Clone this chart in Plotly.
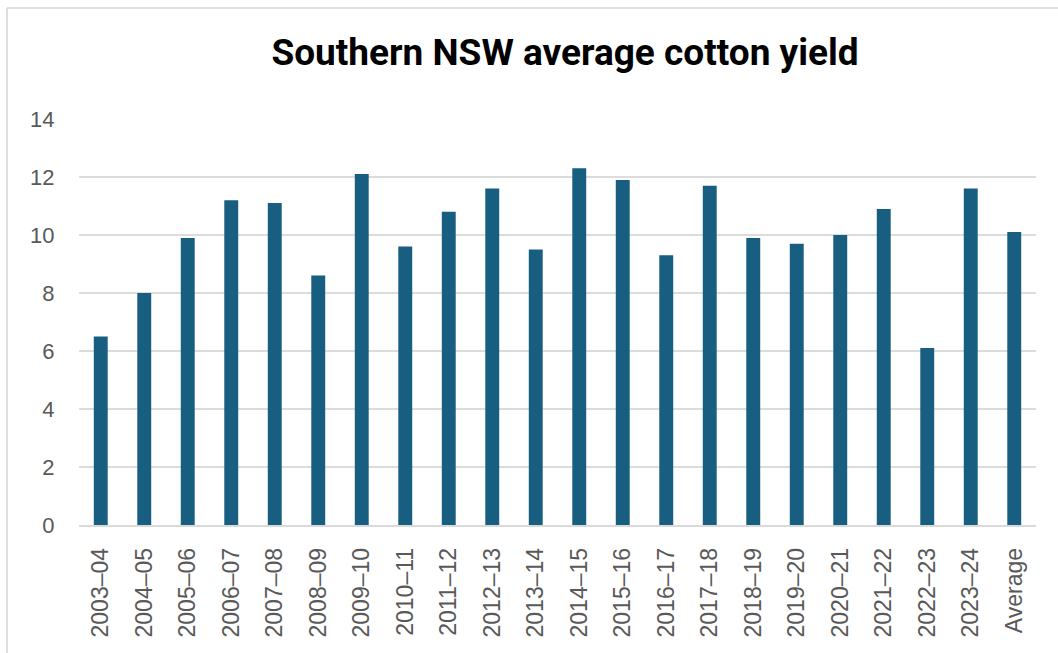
import plotly.graph_objects as go

seasons = ["2003–04", "2004–05", "2005–06", "2006–07", "2007–08", "2008–09",
           "2009–10", "2010–11", "2011–12", "2012–13", "2013–14", "2014–15",
           "2015–16", "2016–17", "2017–18", "2018–19", "2019–20", "2020–21",
           "2021–22", "2022–23", "2023–24", "Average"]
yields = [6.5, 8.0, 9.9, 11.2, 11.1, 8.6, 12.1, 9.6, 10.8, 11.6, 9.5, 12.3,
          11.9, 9.3, 11.7, 9.9, 9.7, 10.0, 10.9, 6.1, 11.6, 10.1]
y_ticks = [0, 2, 4, 6, 8, 10, 12, 14]

W, H = 1058, 653
ml, mr, mt, mb = 79, 22, 119, 128

fig = go.Figure(go.Bar(x=seasons, y=yields, marker_color="#175e80",
                       marker_line_width=0))

pw = W - ml - mr
ph = H - mt - mb
# outer frame line (left and top)
fig.add_shape(type="line", xref="paper", yref="paper",
              x0=(7 - ml) / pw, x1=(W + 5 - ml) / pw,
              y0=(H - 8 - mb) / ph, y1=(H - 8 - mb) / ph,
              line=dict(color="#d4d4d4", width=1.5))
fig.add_shape(type="line", xref="paper", yref="paper",
              x0=(7 - ml) / pw, x1=(7 - ml) / pw,
              y0=(H - 8 - mb) / ph, y1=(-5 - mb) / ph,
              line=dict(color="#d4d4d4", width=1.5))

fig.update_layout(
    width=W, height=H,
    margin=dict(l=ml, r=mr, t=mt, b=mb),
    plot_bgcolor="white", paper_bgcolor="white",
    bargap=0.68,
    showlegend=False,
    title=dict(text="<b>Southern NSW average cotton yield</b>",
               x=565 / W, xanchor="center", xref="container",
               y=1 - 52 / H, yanchor="middle", yref="container",
               font=dict(family="Roboto", size=37, color="#000000")),
    xaxis=dict(tickangle=-90, tickfont=dict(family="Liberation Sans", size=23, color="#595959"),
               showgrid=False, showline=True, linecolor="#d9d9d9", linewidth=1.5,
               ticks="outside", ticklen=12, tickcolor="rgba(0,0,0,0)"),
    yaxis=dict(range=[0, 14], tickvals=y_ticks,
               tickfont=dict(family="Liberation Sans", size=22, color="#595959"),
               showgrid=True, gridcolor="#dcdcdc", gridwidth=1.5,
               zeroline=False, showline=False,
               ticks="outside", ticklen=19, tickcolor="rgba(0,0,0,0)"),
)

fig.write_html("out.html")
